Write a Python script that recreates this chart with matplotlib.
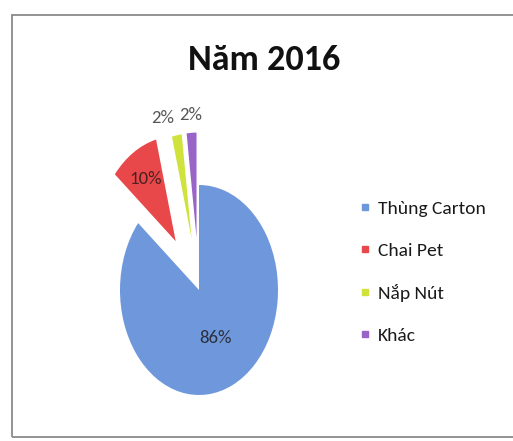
import numpy as np
import matplotlib
matplotlib.use("Agg")
import matplotlib.pyplot as plt
from matplotlib.patches import Rectangle
from matplotlib.lines import Line2D
from matplotlib import font_manager

names = {f.name for f in font_manager.fontManager.ttflist}
preferred = ['Carlito', 'Arial Narrow', 'Liberation Sans Narrow', 'Archivo Narrow',
             'PT Sans Narrow', 'Roboto Condensed', 'Lato']
family = next(n for n in preferred if n in names or n == 'Lato')
plt.rcParams['font.family'] = [family, 'DejaVu Sans']

title = "Năm 2016"
categories = ["Thùng Carton", "Chai Pet", "Nắp Nút", "Khác"]
values = [86, 10, 2, 2]
colors = ["#6f98dc", "#e8484a", "#cfe33c", "#9a63c8"]
explode = [0.0, 0.55, 0.5, 0.5]

W, H = 513, 441
fig = plt.figure(figsize=(W / 100, H / 100), dpi=100)
fig.patch.set_facecolor("white")

# chart frame
fig.add_artist(Rectangle((12 / W, 4 / H), 1.2, (H - 15 - 4) / H, transform=fig.transFigure,
                         fill=False, edgecolor="#8a8a8a", linewidth=1.3))

# pie axes: centre at (199, 290) px, radii 79 px (x) and 105 px (y)
cx, cy, rx, ry = 199, 290, 79, 105
xl, yl = (-2.0, 2.0), (-1.4, 1.9)
left = (cx + xl[0] * rx) / W
right = (cx + xl[1] * rx) / W
top = (H - (cy - yl[1] * ry)) / H
bottom = (H - (cy - yl[0] * ry)) / H
ax = fig.add_axes([left, bottom, right - left, top - bottom])

wedges, texts, autotexts = ax.pie(values, colors=colors, explode=explode, startangle=90,
                                  counterclock=False, autopct='%d%%', pctdistance=0.5,
                                  textprops=dict(fontsize=13.5, color="#2a2f3a"),
                                  wedgeprops=dict(linewidth=0))
ax.set_aspect('auto')
ax.set_xlim(*xl)
ax.set_ylim(*yl)

# label of the red slice sits further out
w = wedges[1]
mid = np.deg2rad((w.theta1 + w.theta2) / 2)
d = np.array([np.cos(mid), np.sin(mid)])
autotexts[1].set_position(explode[1] * d + 0.7 * d)
autotexts[1].set_color("#4a2020")

# move the labels of the thin slices outside, above the pie
for i in (2, 3):
    w = wedges[i]
    mid = np.deg2rad((w.theta1 + w.theta2) / 2)
    d = np.array([np.cos(mid), np.sin(mid)])
    pos = explode[i] * d + 1.17 * d
    if i == 2:
        pos[0] -= 0.15
    autotexts[i].set_position(pos)
    autotexts[i].set_color("#555555")

fig.text(264 / W, 1 - 60 / H, title, ha="center", va="center", fontsize=26,
         fontweight="bold", color="#111111")

handles = [Line2D([], [], marker="s", linestyle="none", markersize=5, markerfacecolor=c,
                  markeredgecolor=c) for c in colors]
fig.legend(handles, categories, loc="center left", bbox_to_anchor=(338 / W, 1 - 272 / H),
           frameon=False, fontsize=14, labelspacing=1.3, handletextpad=0.15,
           handlelength=1.0, labelcolor="#1a1a1a")

fig.savefig("out.png", dpi=100, facecolor="white")
